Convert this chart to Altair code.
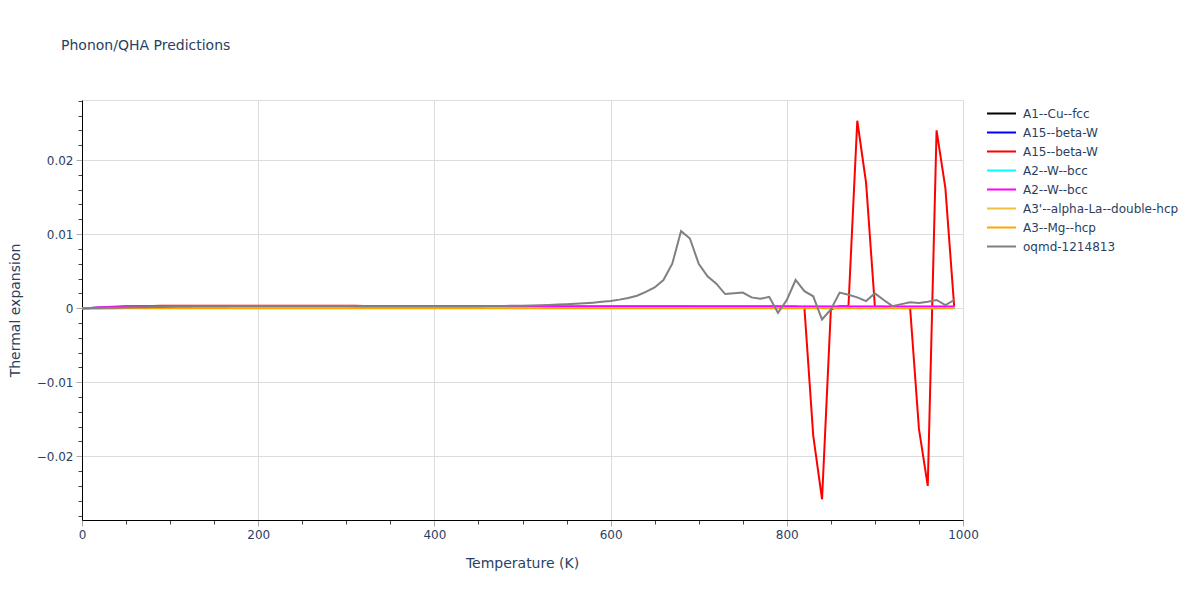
import altair as alt
import pandas as pd

# ---------------- data ----------------
T_FINE = list(range(0, 1000, 10))  # 0 .. 990 K
T_COARSE = [0, 50, 100, 150, 200, 250, 300, 350, 400, 450, 500, 550, 600,
            650, 700, 750, 800, 850, 900, 950, 990]

names = ["A1--Cu--fcc", "A15--beta-W", "A15--beta-W", "A2--W--bcc", "A2--W--bcc",
         "A3'--alpha-La--double-hcp", "A3--Mg--hcp", "oqmd-1214813"]
colors = ["#000000", "#0000ff", "#ff0000", "#00ffff", "#ff00ff", "#f0c03c", "#ffa500", "#808080"]

black_vals = [0.0, 0.00003, 0.00005, 0.00006, 0.00006, 0.00006, 0.00006, 0.00006, 0.00006, 0.00006,
              0.00006, 0.00006, 0.00006, 0.00006, 0.00006, 0.00006, 0.00006, 0.00006, 0.00006, 0.00006, 0.00006]
blue_vals = [0.0, 0.00015, 0.0002, 0.00022, 0.00022, 0.00022, 0.00021, 0.00021, 0.0002, 0.0002,
             0.0002, 0.0002, 0.0002, 0.0002, 0.00019, 0.00019, 0.00019, 0.00019, 0.00019, 0.00019, 0.00019]
cyan_vals = [0.0, 0.0002, 0.00025, 0.00026, 0.00026, 0.00026, 0.00026, 0.00025, 0.00025, 0.00025,
             0.00024, 0.00024, 0.00023, 0.00023, 0.00022, 0.00022, 0.00021, 0.00021, 0.0002, 0.0002, 0.0002]
yellow_vals = [0.0, 0.00001, 0.00001, 0.00001, 0.00001, 0.00001, 0.00001, 0.00001, 0.00001, 0.00001,
               0.00001, 0.00001, 0.00001, 0.00001, 0.00001, 0.00001, 0.00001, 0.00001, 0.00001, 0.00001, 0.00001]
orange_vals = [0.0, 0.0, 0.0, 0.0, 0.0, 0.0, 0.0, 0.0, 0.0, 0.0,
               0.0, 0.0, 0.0, 0.0, 0.0, 0.0, 0.0, 0.0, 0.0, 0.0, 0.0]

red_vals = [
    0.0, 0.00002, 0.00008, 0.00015, 0.0002, 0.00024, 0.00027, 0.00029, 0.0003, 0.00031,
    0.00032, 0.00033, 0.00033, 0.00034, 0.00034, 0.00034, 0.00034, 0.00034, 0.00034, 0.00034,
    0.00034, 0.00034, 0.00034, 0.00033, 0.00033, 0.00033, 0.00032, 0.00032, 0.00032, 0.00031,
    0.00031, 0.00031, 0.0003, 0.0003, 0.0003, 0.0003, 0.00029, 0.00029, 0.00029, 0.00029,
    0.00028, 0.00028, 0.00028, 0.00028, 0.00028, 0.00027, 0.00027, 0.00027, 0.00027, 0.00027,
    0.00026, 0.00026, 0.00026, 0.00026, 0.00026, 0.00025, 0.00025, 0.00025, 0.00025, 0.00025,
    0.00024, 0.00024, 0.00024, 0.00024, 0.00024, 0.00024, 0.00024, 0.00024, 0.00024, 0.00024,
    0.00024, 0.00024, 0.00024, 0.00024, 0.00024, 0.00024, 0.00024, 0.00024, 0.00024, 0.00024,
    0.00024, 0.00024, 0.00003, -0.0172, -0.0258, -0.0002, 0.0003, 0.0003, 0.0253, 0.0169,
    0.0002, 0.0002, 0.0001, 0.0001, 0.0, -0.0163, -0.024, 0.024, 0.0162, 0.0002,
]

magenta_vals = [
    0.0, 0.00003, 0.0001, 0.00016, 0.0002, 0.00023, 0.00025, 0.00026, 0.00027, 0.00027,
    0.00027, 0.00027, 0.00027, 0.00027, 0.00027, 0.00027, 0.00027, 0.00027, 0.00027, 0.00027,
    0.00027, 0.00027, 0.00027, 0.00027, 0.00027, 0.00027, 0.00027, 0.00027, 0.00027, 0.00027,
    0.00027, 0.00027, 0.00027, 0.00027, 0.00027, 0.00027, 0.00027, 0.00027, 0.00027, 0.00027,
    0.00026, 0.00026, 0.00026, 0.00026, 0.00026, 0.00025, 0.00025, 0.00025, 0.00025, 0.00025,
    0.00024, 0.00024, 0.00024, 0.00024, 0.00024, 0.00023, 0.00023, 0.00023, 0.00023, 0.00023,
    0.00022, 0.00022, 0.00022, 0.00022, 0.00022, 0.00021, 0.00021, 0.00021, 0.00021, 0.00021,
    0.0002, 0.0002, 0.0002, 0.0002, 0.0002, 0.0002, 0.0002, 0.0002, 0.0002, 0.0002,
    0.0002, 0.0002, 0.0002, 0.0002, 0.0002, 0.0002, 0.0002, 0.0002, 0.0002, 0.0002,
    0.0002, 0.0002, 0.0002, 0.0002, 0.0002, 0.0002, 0.0002, 0.0002, 0.0002, 0.0002,
]

gray_vals = [
    0.0, 0.00001, 0.00003, 0.00005, 0.00007, 0.00009, 0.00011, 0.00013, 0.00015, 0.00017,
    0.00019, 0.00021, 0.00022, 0.00024, 0.00025, 0.00026, 0.00027, 0.00028, 0.00029, 0.0003,
    0.0003, 0.0003, 0.0003, 0.0003, 0.0003, 0.00029, 0.00029, 0.00029, 0.00028, 0.00028,
    0.00028, 0.00027, 0.00027, 0.00027, 0.00027, 0.00026, 0.00026, 0.00026, 0.00026, 0.00026,
    0.00026, 0.00026, 0.00026, 0.00026, 0.00027, 0.00027, 0.00028, 0.00029, 0.0003, 0.00032,
    0.00034, 0.00037, 0.0004, 0.00044, 0.00048, 0.00053, 0.00058, 0.00065, 0.00074, 0.00085,
    0.00098, 0.00115, 0.00138, 0.00168, 0.0022, 0.0028, 0.0038, 0.006, 0.0104, 0.0094,
    0.006, 0.0043, 0.0033, 0.0019, 0.002, 0.0021, 0.00145, 0.00126, 0.00153, -0.00063,
    0.0011, 0.0038, 0.0023, 0.0016, -0.00153, -0.00018, 0.0021, 0.0018, 0.00145, 0.00095,
    0.002, 0.0011, 0.00027, 0.00054, 0.0008, 0.0007, 0.00085, 0.0011, 0.0004, 0.0011,
]

series = [
    (T_COARSE, black_vals), (T_COARSE, blue_vals), (T_FINE, red_vals), (T_COARSE, cyan_vals),
    (T_FINE, magenta_vals), (T_COARSE, yellow_vals), (T_COARSE, orange_vals), (T_FINE, gray_vals),
]

rows = []
keys = []
for i, (name, (ts, vs)) in enumerate(zip(names, series)):
    key = f"{i}|{name}"
    keys.append(key)
    for t, v in zip(ts, vs):
        rows.append({"T": t, "v": v, "s": key})
df = pd.DataFrame(rows)

x_ticks = list(range(0, 1001, 50))
y_ticks = [round(-0.028 + 0.002 * k, 3) for k in range(29)]

TXT = "#2a3f5f"
FONT = "DejaVu Sans"

major_x = "datum.value % 200 === 0"
major_y = "abs(datum.value * 100 - round(datum.value * 100)) < 0.000001"

x_axis = alt.Axis(
    values=x_ticks,
    format="d",
    labelExpr=f"{major_x} ? datum.label : ''",
    grid=True,
    gridColor="#dcdcdc",
    gridOpacity={"condition": {"test": f"{major_x} && datum.value > 0 && datum.value < 1000", "value": 1}, "value": 0},
    tickColor={"condition": {"test": major_x, "value": "#aaaaaa"}, "value": "#444444"},
    tickSize={"condition": {"test": major_x, "value": 6}, "value": 4},
    domainColor="#000000",
    domainWidth=1,
    labelColor=TXT, labelFont=FONT, labelFontSize=12, labelPadding=3,
    labelFlush=False,
    title="Temperature (K)", titleColor=TXT, titleFont=FONT, titleFontSize=14,
    titleFontWeight="normal", titleX=440, titleY=43, titleBaseline="middle",
)

y_axis = alt.Axis(
    values=y_ticks,
    format=".2~f",
    labelExpr=f"{major_y} ? datum.label : ''",
    grid=True,
    gridColor="#dcdcdc",
    gridOpacity={"condition": {"test": major_y, "value": 1}, "value": 0},
    tickColor={"condition": {"test": major_y, "value": "#aaaaaa"}, "value": "#444444"},
    tickSize={"condition": {"test": major_y, "value": 6}, "value": 4},
    domainColor="#000000",
    domainWidth=1,
    labelColor=TXT, labelFont=FONT, labelFontSize=12, labelPadding=3,
    labelFlush=False,
    title="Thermal expansion", titleColor=TXT, titleFont=FONT, titleFontSize=14,
    titleFontWeight="normal", titleX=-67, titleY=210, titleBaseline="middle",
)

legend = alt.Legend(
    title=None,
    orient="none",
    legendX=904,
    legendY=4,
    symbolType="stroke",
    symbolSize=841,
    symbolStrokeWidth=2,
    clipHeight=19,
    rowPadding=0,
    padding=0,
    labelOffset=6,
    labelColor=TXT,
    labelFont=FONT,
    labelFontSize=12,
    labelExpr="split(datum.label, '|')[1]",
)

chart = (
    alt.Chart(df)
    .mark_line(strokeWidth=2, clip=True)
    .encode(
        x=alt.X("T:Q", scale=alt.Scale(domain=[0, 1000], nice=False, zero=False), axis=x_axis),
        y=alt.Y("v:Q", scale=alt.Scale(domain=[-0.0286, 0.0281], nice=False, zero=False), axis=y_axis),
        color=alt.Color("s:N", scale=alt.Scale(domain=keys, range=colors), legend=legend),
        order=alt.Order("T:Q"),
    )
    .properties(
        width=881,
        height=420,
        title=alt.TitleParams(
            "Phonon/QHA Predictions", anchor="start", frame="group", dx=-21, offset=47,
            color=TXT, font=FONT, fontSize=14, fontWeight="normal",
        ),
        padding={"left": 74, "top": 92, "right": 229, "bottom": 60},
        autosize=alt.AutoSizeParams(type="none"),
    )
    .configure_view(stroke=None)
    .configure(background="white")
)

chart.save("out.html", embed_options={"renderer": "svg", "actions": False})
